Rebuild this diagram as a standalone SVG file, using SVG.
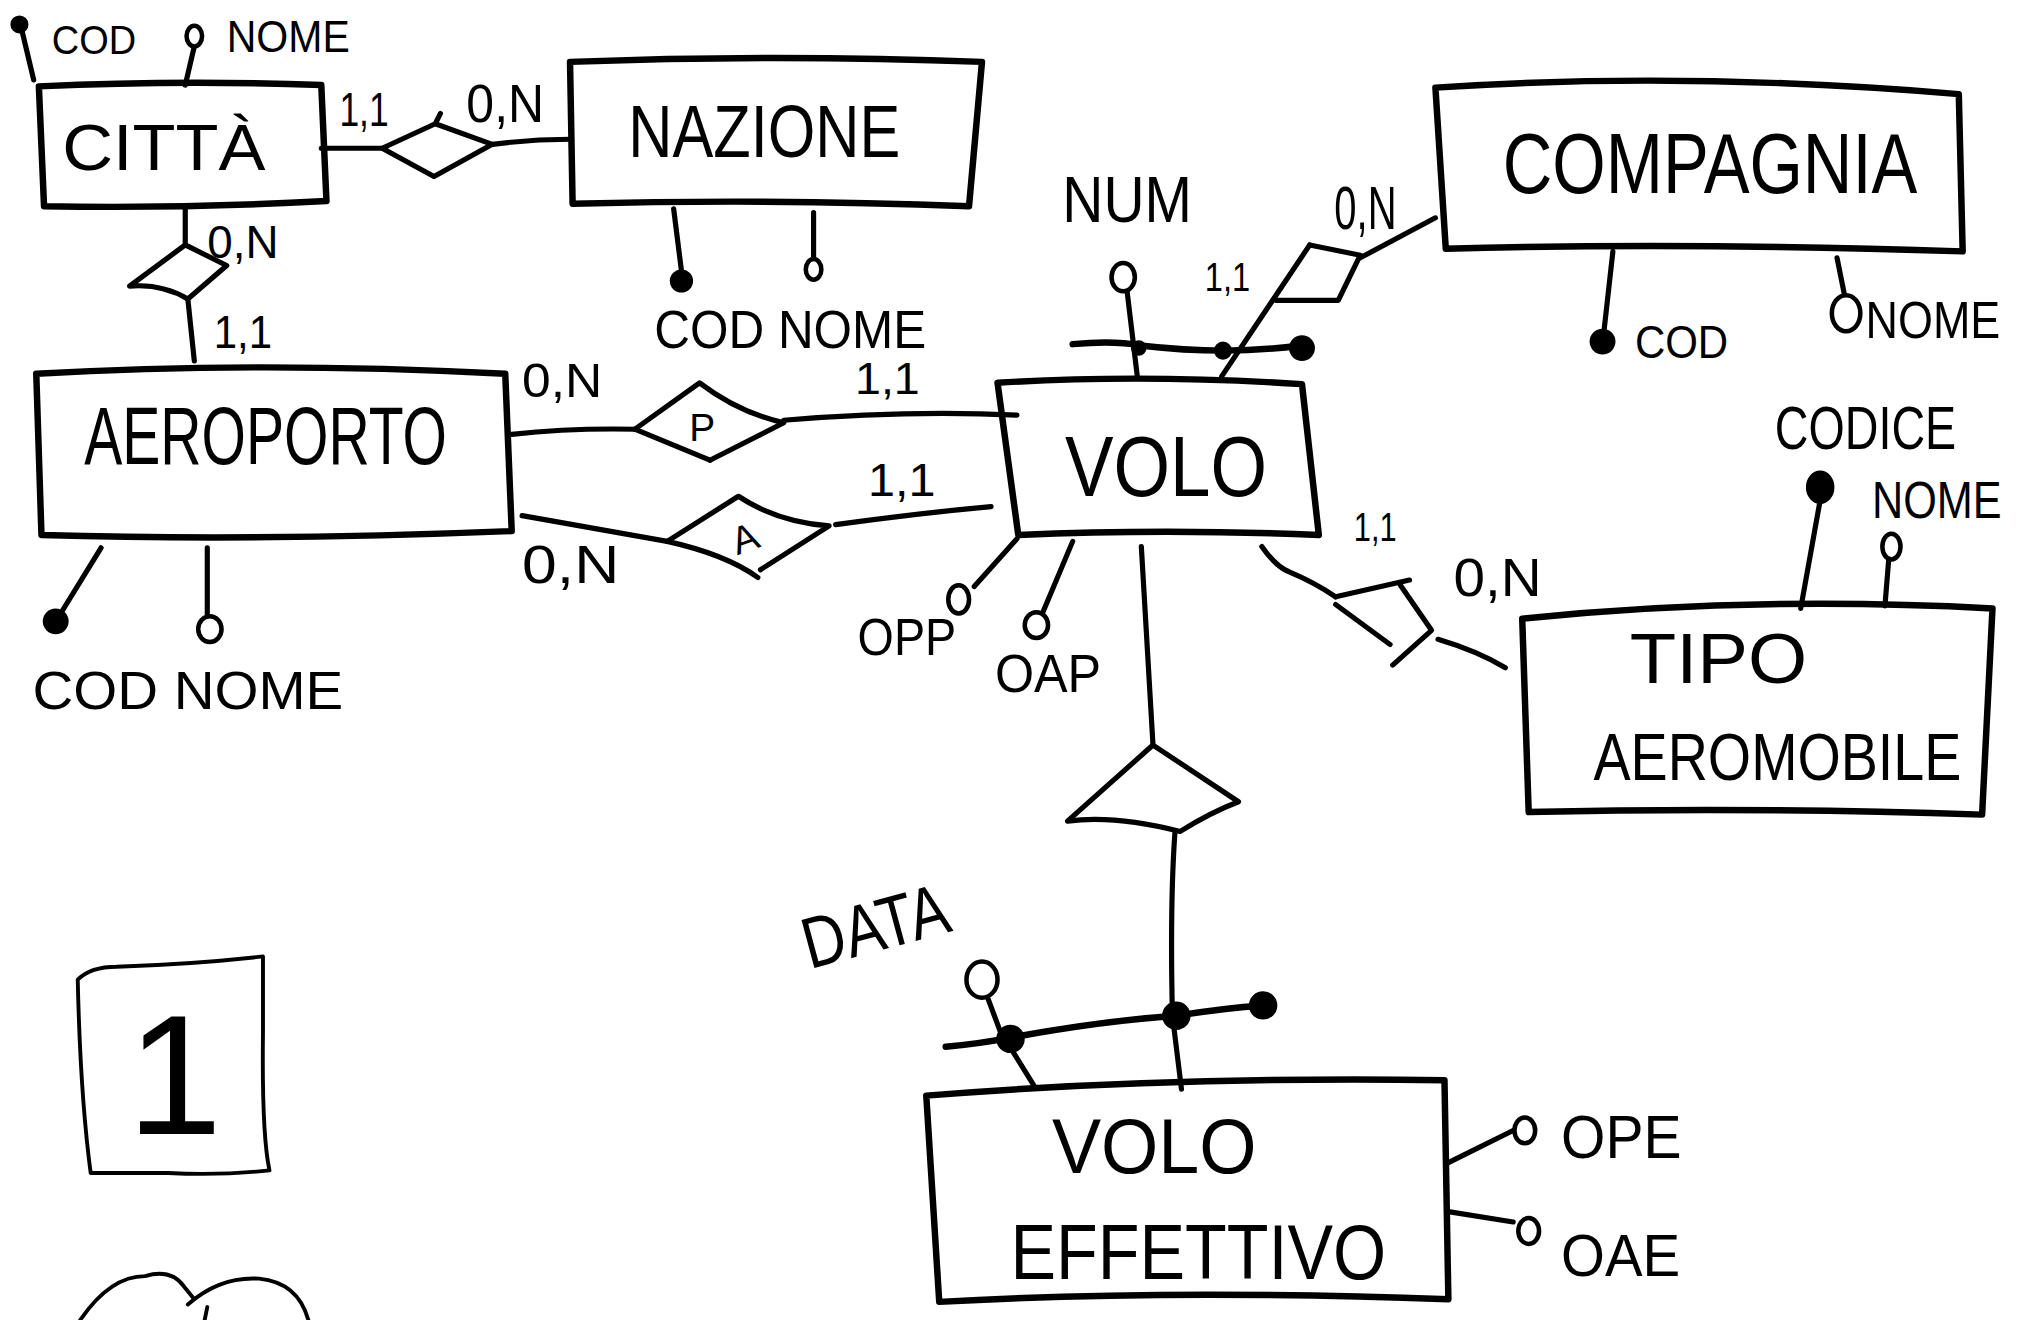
<svg xmlns="http://www.w3.org/2000/svg" width="2021" height="1320" viewBox="0 0 2021 1320">
<style>
.s{fill:none;stroke:#000;stroke-width:4;stroke-linecap:round;stroke-linejoin:round}
.b{fill:none;stroke:#000;stroke-width:5;stroke-linecap:round;stroke-linejoin:round}
.th{fill:none;stroke:#000;stroke-width:3;stroke-linecap:round;stroke-linejoin:round}
.k{fill:#000;stroke:#000;stroke-width:2}
.o{fill:#fff;stroke:#000;stroke-width:3.5}
.t{font-family:"Liberation Sans","DejaVu Sans",sans-serif;fill:#000}
</style>
<rect width="2021" height="1320" fill="#fff"/>
<g transform="scale(1.2955 1.289)">
<g id="connectors">
<path class="s" d="M248,115 L295,115"/>
<path class="s" d="M380,112 Q410,108 440,108"/>
<path class="s" d="M143,160 L143,190"/>
<path class="s" d="M145,232 L150,280"/>
<path class="s" d="M395,337 Q440,332 490,333"/>
<path class="s" d="M605,326 Q700,318 785,322"/>
<path class="s" d="M403,400 Q460,410 515,420"/>
<path class="s" d="M645,407 Q710,398 765,393"/>
<path class="s" d="M943,292 L1011,190"/>
<path class="s" d="M1050,200 L1108,169"/>
<path class="s" d="M974,424 Q985,440 996,444 Q1015,452 1031,463"/>
<path class="s" d="M1110,496 Q1140,505 1162,518"/>
<path class="s" d="M881,424 L890,578"/>
<path class="s" d="M907,645 Q903,700 905,788 L912,845"/>
</g>
<g id="rel-citta-nazione"><path class="s" d="M295,115 L336,96 L380,112 L335,137 Z M336,96 L340,88"/></g>
<g id="rel-citta-aeroporto"><path class="s" d="M143,190 L175,206 L145,232 Q125,220 100,222 Z"/></g>
<g id="rel-partenza"><path class="s" d="M490,333 L540,297 Q570,320 605,328 L548,357"/><path class="s" d="M490,333 L548,357"/><text class="t" x="532" y="342" font-size="30">P</text></g>
<g id="rel-arrivo"><path class="s" d="M515,420 L570,385 Q600,405 640,408 L587,442"/><path class="s" d="M515,420 Q560,430 585,448"/><text class="t" x="565" y="428" font-size="30" transform="rotate(-20 575 418)">A</text></g>
<g id="rel-volo-compagnia"><path class="s" d="M1011,190 L1050,198 L1033,233 L985,233"/></g>
<g id="rel-volo-tipo"><path class="s" d="M1031,463 L1088,450 M1081,454 L1105,489 L1075,516 M1031,469 L1073,500"/></g>
<g id="isa"><path class="s" d="M890,578 L956,622 Q935,630 911,645 Q860,632 824,637 Z"/></g>
<g id="citta">
<path class="b" d="M30,67 Q140,62 248,66 L252,156 Q140,162 34,160 Z"/>
<text class="t" x="48" y="132" font-size="50" textLength="157" lengthAdjust="spacingAndGlyphs">CITTÀ</text>
</g>
<g id="citta-attr">
<path class="s" d="M17,24 L26,62 M150,36 L143,66"/>
<circle class="k" cx="15" cy="19" r="6"/>
<ellipse class="o" cx="150" cy="28" rx="6" ry="8"/>
<text class="t" x="40" y="42" font-size="32" textLength="65" lengthAdjust="spacingAndGlyphs">COD</text>
<text class="t" x="175" y="40" font-size="34" textLength="95" lengthAdjust="spacingAndGlyphs">NOME</text>
</g>
<g id="nazione">
<path class="b" d="M440,48 Q600,42 758,48 L748,160 Q600,154 442,158 Z"/>
<text class="t" x="485" y="122" font-size="58" textLength="210" lengthAdjust="spacingAndGlyphs">NAZIONE</text>
</g>
<g id="nazione-attr">
<path class="s" d="M520,162 L526,210 M628,165 L628,200"/>
<circle class="k" cx="526" cy="218" r="8"/>
<ellipse class="o" cx="628" cy="209" rx="6" ry="8"/>
<text class="t" x="505" y="270" font-size="42" textLength="210" lengthAdjust="spacingAndGlyphs">COD NOME</text>
</g>
<g id="aeroporto">
<path class="b" d="M28,290 Q200,280 390,290 L395,412 Q200,420 32,415 Z"/>
<text class="t" x="65" y="360" font-size="64" textLength="280" lengthAdjust="spacingAndGlyphs">AEROPORTO</text>
</g>
<g id="aeroporto-attr">
<path class="s" d="M78,425 L48,474 M160,425 L160,478"/>
<circle class="k" cx="43" cy="482" r="9"/>
<ellipse class="o" cx="162" cy="488" rx="9" ry="10"/>
<text class="t" x="25" y="550" font-size="42" textLength="240" lengthAdjust="spacingAndGlyphs">COD NOME</text>
</g>
<g id="volo">
<path class="b" d="M770,297 Q880,290 1005,298 L1018,415 Q900,410 786,415 Z"/>
<text class="t" x="822" y="385" font-size="66" textLength="156" lengthAdjust="spacingAndGlyphs">VOLO</text>
</g>
<g id="volo-attr">
<path class="s" d="M870,226 L878,293"/>
<path class="b" d="M828,267 Q860,264 880,268 Q915,272 944,272 Q975,272 1004,268"/>
<ellipse class="o" cx="867" cy="215" rx="9" ry="11"/>
<circle class="k" cx="879" cy="270" r="5"/>
<circle class="k" cx="944" cy="272" r="6"/>
<circle class="k" cx="1005" cy="270" r="9"/>
<path class="s" d="M785,418 L752,455 M828,420 L805,475"/>
<ellipse class="o" cx="740" cy="465" rx="8" ry="11"/>
<ellipse class="o" cx="800" cy="485" rx="9" ry="10"/>
<text class="t" x="820" y="172" font-size="50" textLength="100" lengthAdjust="spacingAndGlyphs">NUM</text>
<text class="t" x="662" y="508" font-size="40" textLength="76" lengthAdjust="spacingAndGlyphs">OPP</text>
<text class="t" x="768" y="537" font-size="42" textLength="82" lengthAdjust="spacingAndGlyphs">OAP</text>
</g>
<g id="compagnia">
<path class="b" d="M1108,68 Q1300,55 1512,73 L1515,195 Q1300,188 1116,193 Z"/>
<text class="t" x="1160" y="150" font-size="66" textLength="320" lengthAdjust="spacingAndGlyphs">COMPAGNIA</text>
</g>
<g id="compagnia-attr">
<path class="s" d="M1245,195 L1238,258 M1418,200 L1424,230"/>
<circle class="k" cx="1237" cy="265" r="9"/>
<ellipse class="o" cx="1425" cy="243" rx="11" ry="14"/>
<text class="t" x="1262" y="278" font-size="36" textLength="72" lengthAdjust="spacingAndGlyphs">COD</text>
<text class="t" x="1440" y="262" font-size="40" textLength="104" lengthAdjust="spacingAndGlyphs">NOME</text>
</g>
<g id="tipo-aeromobile">
<path class="b" d="M1175,480 Q1350,462 1538,472 L1530,632 Q1350,626 1180,630 Z"/>
<text class="t" x="1258" y="530" font-size="54" textLength="137" lengthAdjust="spacingAndGlyphs">TIPO</text>
<text class="t" x="1230" y="605" font-size="52" textLength="284" lengthAdjust="spacingAndGlyphs">AEROMOBILE</text>
</g>
<g id="tipo-attr">
<path class="s" d="M1405,388 L1390,472 M1458,433 L1455,470"/>
<ellipse class="k" cx="1405" cy="378" rx="10" ry="12"/>
<ellipse class="o" cx="1460" cy="424" rx="7" ry="10"/>
<text class="t" x="1370" y="348" font-size="48" textLength="140" lengthAdjust="spacingAndGlyphs">CODICE</text>
<text class="t" x="1445" y="402" font-size="40" textLength="100" lengthAdjust="spacingAndGlyphs">NOME</text>
</g>
<g id="volo-effettivo">
<path class="b" d="M715,850 Q900,835 1115,838 L1118,1008 Q900,1000 725,1010 Z"/>
<text class="t" x="812" y="910" font-size="60" textLength="158" lengthAdjust="spacingAndGlyphs">VOLO</text>
<text class="t" x="780" y="992" font-size="60" textLength="290" lengthAdjust="spacingAndGlyphs">EFFETTIVO</text>
</g>
<g id="volo-effettivo-attr">
<path class="b" d="M730,812 Q755,810 780,805 Q850,792 908,788 Q945,782 975,780"/>
<path class="s" d="M762,773 L772,800 L798,842"/>
<ellipse class="o" cx="758" cy="760" rx="12" ry="14"/>
<circle class="k" cx="780" cy="806" r="10"/>
<circle class="k" cx="908" cy="788" r="10"/>
<circle class="k" cx="975" cy="780" r="10"/>
<path class="s" d="M1118,902 L1168,877 M1118,940 L1168,948"/>
<ellipse class="o" cx="1177" cy="877" rx="8" ry="10"/>
<ellipse class="o" cx="1180" cy="955" rx="8" ry="10"/>
<text class="t" x="625" y="752" font-size="56" textLength="115" lengthAdjust="spacingAndGlyphs" transform="rotate(-15 625 752)">DATA</text>
<text class="t" x="1205" y="898" font-size="48" textLength="93" lengthAdjust="spacingAndGlyphs">OPE</text>
<text class="t" x="1205" y="990" font-size="46" textLength="92" lengthAdjust="spacingAndGlyphs">OAE</text>
</g>
<g id="cardinalities">
<text class="t" x="262" y="98" font-size="38" textLength="38" lengthAdjust="spacingAndGlyphs">1,1</text>
<text class="t" x="360" y="95" font-size="42" textLength="60" lengthAdjust="spacingAndGlyphs">0,N</text>
<text class="t" x="160" y="200" font-size="36" textLength="55" lengthAdjust="spacingAndGlyphs">0,N</text>
<text class="t" x="165" y="270" font-size="36" textLength="45" lengthAdjust="spacingAndGlyphs">1,1</text>
<text class="t" x="403" y="308" font-size="38" textLength="62" lengthAdjust="spacingAndGlyphs">0,N</text>
<text class="t" x="660" y="306" font-size="34" textLength="50" lengthAdjust="spacingAndGlyphs">1,1</text>
<text class="t" x="670" y="385" font-size="36" textLength="52" lengthAdjust="spacingAndGlyphs">1,1</text>
<text class="t" x="403" y="452" font-size="42" textLength="75" lengthAdjust="spacingAndGlyphs">0,N</text>
<text class="t" x="930" y="226" font-size="32" textLength="35" lengthAdjust="spacingAndGlyphs">1,1</text>
<text class="t" x="1030" y="178" font-size="48" textLength="48" lengthAdjust="spacingAndGlyphs">0,N</text>
<text class="t" x="1045" y="420" font-size="32" textLength="33" lengthAdjust="spacingAndGlyphs">1,1</text>
<text class="t" x="1122" y="462" font-size="42" textLength="68" lengthAdjust="spacingAndGlyphs">0,N</text>
</g>
<g id="page-number">
<path class="th" d="M60,760 Q70,750 90,750 Q150,748 203,742 L203,800 Q202,880 208,908 Q170,912 130,910 L70,910 Q62,850 60,760 Z"/>
<text class="t" x="98" y="880" font-size="132">1</text>
</g>
<g id="partial-sketch">
<path class="th" d="M62,1024 Q85,990 112,990 Q132,984 142,998 L150,1008 M145,1012 Q170,990 200,992 Q230,995 238,1024 M160,1014 L158,1024"/>
</g>
</g>
</svg>
